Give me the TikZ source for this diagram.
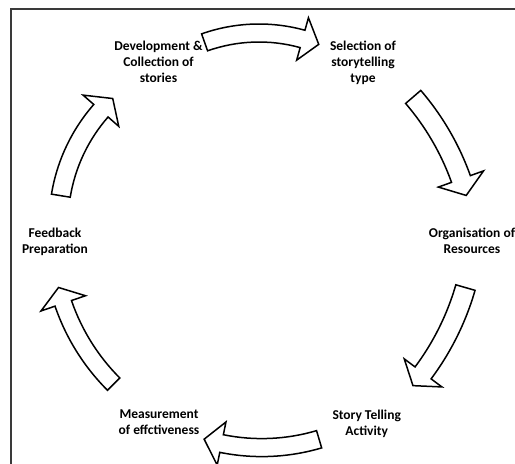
\documentclass[tikz,border=0pt]{standalone}
\usepackage{fontspec}
\setmainfont{Carlito}
\definecolor{framegray}{HTML}{3A3A3A}
\tikzset{
  blockarrow/.style={draw=black, fill=white, line width=1.5pt, line join=miter},
  lbl/.style={align=center, inner sep=0pt, font=\bfseries\fontsize{13.5}{16}\selectfont},
  framestyle/.style={draw=framegray, line width=1.6pt}
}
% #1 cx, #2 cy, #3 radius, #4 tail angle, #5 head-base angle, #6 tip angle, #7 half body width, #8 half head width
\newcommand\cyclearrow[8]{%
  \draw[blockarrow, shift={(#1,#2)}]
    ({#4}:{#3+#7}) arc[start angle=#4, end angle=#5, radius={#3+#7}]
    -- ({#5}:{#3+#8}) -- ({#6}:{#3}) -- ({#5}:{#3-#8}) -- ({#5}:{#3-#7})
    arc[start angle=#5, end angle=#4, radius={#3-#7}] -- cycle;}
\begin{document}
\begin{tikzpicture}[x=1pt,y=1pt]
\useasboundingbox (0,0) rectangle (515,464);
\draw[framestyle] (10.7,-30) rectangle (560,454.7);
% arrows
\cyclearrow{259}{268}{163}{109.5}{74.5}{68.5}{9}{22}
\cyclearrow{215.7}{197.2}{260.5}{40.7}{19.7}{15.9}{10}{24}
\cyclearrow{209.5}{250.3}{266.4}{-16.1}{-36.7}{-40.2}{10}{23.5}
\cyclearrow{261.8}{218.2}{201.8}{-73.5}{-101.5}{-106.6}{9}{22}
\cyclearrow{262.6}{228.9}{210.7}{225}{198.9}{194.4}{8.7}{23.5}
\cyclearrow{229.5}{240.7}{170.9}{170.7}{138.8}{133.1}{9.5}{23.7}
% labels
\node[lbl] (dev) at (158.5,402.5) {Development \&\\Collection of\\stories};
\node[lbl] (sel) at (363,401.5) {Selection of\\storytelling\\type};
\node[lbl] (org) at (472,223) {Organisation of\\Resources};
\node[lbl] (fb) at (55,222.5) {Feedback\\Preparation};
\node[lbl] (meas) at (159,42) {Measurement\\of effctiveness};
\node[lbl] (story) at (366.7,40.5) {Story Telling\\Activity};
\end{tikzpicture}
\end{document}
